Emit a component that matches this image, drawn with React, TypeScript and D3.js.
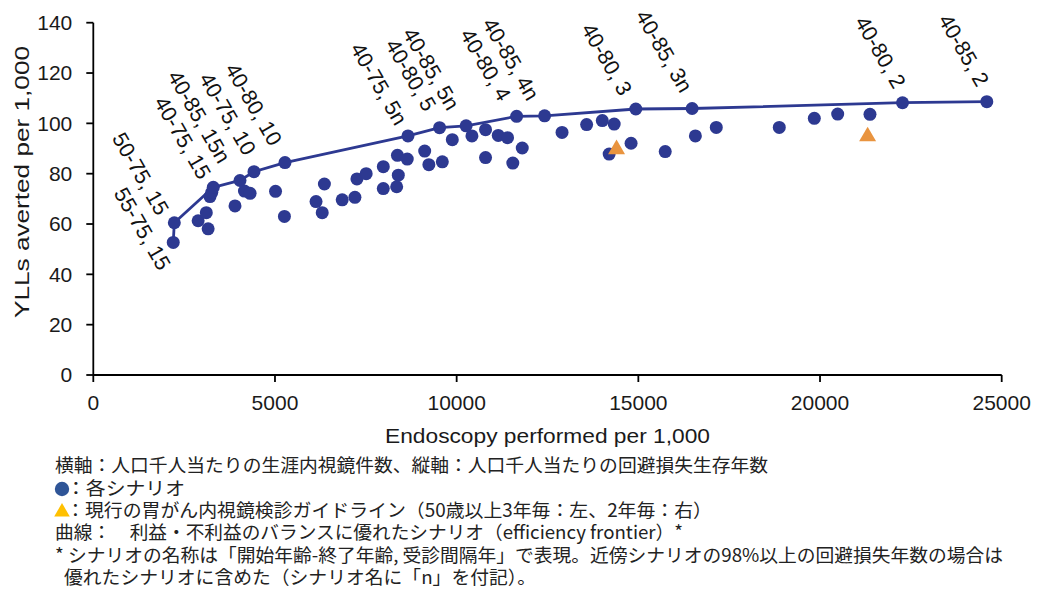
import React from "react";
import * as d3 from "d3";

// ---------- data ----------
const frontierNames = [
  "55-75, 15", "50-75, 15", "40-75, 15", "40-85, 15n", "40-75, 10", "40-80, 10",
  "40-75, 5n", "40-80, 5", "40-85, 5n", "40-80, 4", "40-85, 4n", "40-80, 3",
  "40-85, 3n", "40-80, 2", "40-85, 2",
];
const frontierX = [2200, 2230, 3302, 4037, 4422, 5275, 8660, 9530, 10260, 11650, 12420, 14930, 16480, 22270, 24590];
const frontierY = [52.7, 60.5, 74.6, 77.3, 80.8, 84.4, 95.0, 98.3, 99.0, 102.8, 103.0, 105.7, 105.9, 108.2, 108.6];

const otherX = [
  2885, 3110, 3160, 3212, 3260, 3900, 4160, 4315, 5015, 5260, 6130, 6360, 6300, 6850, 7200,
  7255, 7510, 7981, 7981, 8370, 8394, 8349, 8640, 9120, 9235, 9605, 9880, 10420, 10795, 10795,
  11145, 11400, 11545, 11805, 12900, 13577, 14008, 14335, 14197, 14800, 15740, 16570, 17145,
  18879, 19843, 20486, 21375,
];
const otherY = [
  61.3, 64.5, 58.1, 70.9, 72.6, 67.2, 73.1, 72.2, 73.0, 63.0, 68.9, 75.9, 64.5, 69.6, 70.6,
  77.9, 80.0, 82.8, 74.1, 87.3, 79.4, 74.8, 85.8, 89.0, 83.6, 84.7, 93.5, 95.0, 97.5, 86.4,
  95.2, 94.3, 84.2, 90.2, 96.4, 99.5, 101.1, 99.7, 87.8, 92.1, 88.8, 95.0, 98.4,
  98.4, 102.0, 103.7, 103.6,
];

const guideX = [14400, 21310];
const guideY = [89.7, 94.8];

const xTicks = [0, 5000, 10000, 15000, 20000, 25000];
const yTicks = [0, 20, 40, 60, 80, 100, 120, 140];
const xTitle = "Endoscopy performed per 1,000";
const yTitle = "YLLs averted per 1,000";

const noteLines = [
  "横軸：人口千人当たりの生涯内視鏡件数、縦軸：人口千人当たりの回避損失生存年数",
  "：各シナリオ",
  "：現行の胃がん内視鏡検診ガイドライン（50歳以上3年毎：左、2年毎：右）",
  "曲線：　利益・不利益のバランスに優れたシナリオ（efficiency frontier）*",
  "* シナリオの名称は「開始年齢-終了年齢, 受診間隔年」で表現。近傍シナリオの98%以上の回避損失年数の場合は",
  "優れたシナリオに含めた（シナリオ名に「n」を付記）。",
];

// ---------- layout ----------
const W = 1038;
const H = 591;
const plot = { left: 93.3, right: 1001.7, top: 22.7, bottom: 375 };
// offset of each rotated label's end from its point (px)
const labelNudge: [number, number][] = [
  [-14.6, 29.4], [-17.3, -6], [-14.3, -6.5], [-21.5, -15.5], [-10, -14.7], [-15, -15.3],
  [-12.7, -9], [-15.3, -14.7], [-18.7, -14], [-17.7, -13.7], [-17.3, -13.7], [-15.7, -12],
  [-11.7, -14.3], [-8.7, -12.7], [-9.7, -13.7],
];
const noteLayout = [
  { x: 55, y: 472, len: 713 },
  { x: 66, y: 495, len: 119 },
  { x: 66, y: 517, len: 646 },
  { x: 55, y: 539, len: 628 },
  { x: 55, y: 562, len: 948 },
  { x: 64, y: 584, len: 472 },
];

const BLUE = "#2D3991";
const ORANGE = "#E9943F";
const LATIN = "'Liberation Sans', Arial, Helvetica, sans-serif";
const CJK = "'Noto Sans CJK JP', 'Noto Sans', sans-serif";

export default function App() {
  const x = d3.scaleLinear().domain([0, 25000]).range([plot.left, plot.right]);
  const y = d3.scaleLinear().domain([0, 140]).range([plot.bottom, plot.top]);

  const frontier = frontierX.map((v, i) => ({ x: v, y: frontierY[i], name: frontierNames[i] }));
  const others = otherX.map((v, i) => ({ x: v, y: otherY[i] }));
  const guides = guideX.map((v, i) => ({ x: v, y: guideY[i] }));

  const linePath = d3
    .line<{ x: number; y: number }>()
    .x((d) => x(d.x))
    .y((d) => y(d.y))(frontier) || "";

  const tri = d3.symbol().type(d3.symbolTriangle).size(125)() || "";
  const legendTri = d3.symbol().type(d3.symbolTriangle).size(105)() || "";

  return (
    <svg
      width={W}
      height={H}
      viewBox={`0 0 ${W} ${H}`}
      style={{ position: "absolute", left: 0, top: 0, display: "block", background: "#fff" }}
    >
      <rect x={0} y={0} width={W} height={H} fill="#fff" />

      {/* axes */}
      <g stroke="#000" strokeWidth={1.8} fill="none">
        <line x1={plot.left} x2={plot.left} y1={plot.top} y2={plot.bottom} />
        <line x1={plot.left} x2={plot.right} y1={plot.bottom} y2={plot.bottom} />
        {yTicks.map((t) => (
          <line key={"yt" + t} x1={plot.left - 7} x2={plot.left} y1={y(t)} y2={y(t)} />
        ))}
        {xTicks.map((t) => (
          <line key={"xt" + t} x1={x(t)} x2={x(t)} y1={plot.bottom} y2={plot.bottom + 7} />
        ))}
      </g>
      <g fontFamily={LATIN} fontSize={21} fill="#1a1a1a">
        {yTicks.map((t) => (
          <text key={"yl" + t} x={plot.left - 21} y={y(t)} dy="0.35em" textAnchor="end">
            {t}
          </text>
        ))}
        {xTicks.map((t) => (
          <text key={"xl" + t} x={x(t)} y={plot.bottom + 35} textAnchor="middle">
            {t}
          </text>
        ))}
        <text
          x={(plot.left + plot.right) / 2}
          y={443}
          textAnchor="middle"
          textLength={325}
          lengthAdjust="spacingAndGlyphs"
        >
          {xTitle}
        </text>
        <text
          transform={`translate(29, ${182}) rotate(-90)`}
          textAnchor="middle"
          textLength={272}
          lengthAdjust="spacingAndGlyphs"
        >
          {yTitle}
        </text>
      </g>

      {/* frontier line */}
      <path d={linePath} fill="none" stroke={BLUE} strokeWidth={2.8} strokeLinejoin="round" />

      {/* scenario points */}
      <g fill={BLUE}>
        {others.map((d, i) => (
          <circle key={"o" + i} cx={x(d.x)} cy={y(d.y)} r={6.5} />
        ))}
        {frontier.map((d, i) => (
          <circle key={"f" + i} cx={x(d.x)} cy={y(d.y)} r={6.5} />
        ))}
      </g>

      {/* current guideline */}
      <g fill={ORANGE}>
        {guides.map((d, i) => (
          <path key={"g" + i} d={tri} transform={`translate(${x(d.x)},${y(d.y)})`} />
        ))}
      </g>

      {/* rotated scenario labels */}
      <g fontFamily={LATIN} fontSize={21.5} fill="#111">
        {frontier.map((d, i) => (
          <text
            key={"lab" + i}
            textAnchor="end"
            transform={`translate(${x(d.x) + labelNudge[i][0]},${y(d.y) + labelNudge[i][1]}) rotate(60)`}
          >
            {d.name}
          </text>
        ))}
      </g>

      {/* notes */}
      <circle cx={62} cy={489} r={7.2} fill="#2F5597" />
      <path d={legendTri} transform="translate(62,512)" fill="#FFC000" />
      <g fontFamily={CJK} fontSize={18.5} fill="#222">
        {noteLines.map((t, i) => (
          <text
            key={"n" + i}
            x={noteLayout[i].x}
            y={noteLayout[i].y}
            textLength={noteLayout[i].len}
            lengthAdjust="spacingAndGlyphs"
          >
            {t}
          </text>
        ))}
      </g>
    </svg>
  );
}
